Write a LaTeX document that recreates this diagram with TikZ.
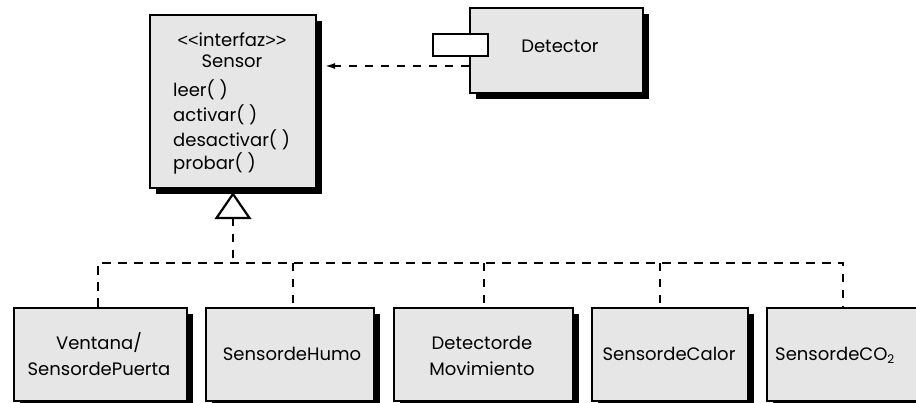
\documentclass[tikz,border=0pt]{standalone}
\usepackage{fontspec}
\setmainfont{Poppins}
\newfontfamily\anglefont{Liberation Sans}
\usetikzlibrary{arrows.meta,shadows}
\definecolor{boxgray}{HTML}{E6E6E7}
\begin{document}
\begin{tikzpicture}[x=1pt,y=-1pt,
  box/.style={draw=black, line width=2.2pt, fill=boxgray, rectangle, inner sep=0pt, anchor=north west,
    general shadow={fill=black, shadow xshift=6pt, shadow yshift=-6pt}},
  lbl/.style={inner sep=0pt, anchor=base, font=\fontsize{18}{21}\selectfont},
  conn/.style={line width=2.5pt, dash pattern=on 8.5pt off 7.5pt}]
\useasboundingbox (0,0) rectangle (916,403);
\clip (0,0) rectangle (916,403);
% Sensor interface
\node[box, minimum width=166pt, minimum height=173pt] (sensor) at (149,14) {};
\node[lbl] (s1) at (232,47) {{\anglefont<\kern0pt<}interfaz{\anglefont>\kern0pt>}};
\node[lbl] (s2) at (232,68) {Sensor};
\node[lbl, anchor=base west] (m1) at (173,97) {leer( )};
\node[lbl, anchor=base west] (m2) at (173,122) {activar( )};
\node[lbl, anchor=base west] (m3) at (173,147) {desactivar( )};
\node[lbl, anchor=base west] (m4) at (173,170) {probar( )};
% Detector component
\node[box, minimum width=173pt, minimum height=85pt] (det) at (469,7) {};
\node[lbl] (dt) at (560,53) {Detector};
\node[draw=black, line width=2.2pt, fill=white, rectangle, inner sep=0pt, anchor=north west,
  minimum width=55pt, minimum height=22pt] (port) at (432,33) {};
\coordinate (aS) at (469,66);
\draw[conn, -{Latex[length=12pt,width=6pt]}] (aS) -- ([xshift=6pt]sensor.east |- aS);
% realization triangle
\coordinate (tip) at (233,194);
\coordinate (tribase) at (233,218);
\draw[line width=2.2pt, fill=white, line join=miter] (tip) -- ++(-16.5,24) -- ++(33,0) -- cycle;
% bottom boxes
\node[box, minimum width=173pt, minimum height=93pt] (b1) at (13,307) {};
\node[box, minimum width=168pt, minimum height=93pt] (b2) at (205,307) {};
\node[box, minimum width=179pt, minimum height=93pt] (b3) at (393,307) {};
\node[box, minimum width=156pt, minimum height=93pt] (b4) at (591,307) {};
\node[box, minimum width=170pt, minimum height=93pt] (b5) at (766,307) {};
\node[lbl] (t1a) at (99,350) {Ventana/};
\node[lbl] (t1b) at (99,375) {SensordePuerta};
\node[lbl] (t2) at (292,360) {SensordeHumo};
\node[lbl] (t3a) at (482,350) {Detectorde};
\node[lbl] (t3b) at (482,375) {Movimiento};
\node[lbl] (t4) at (669,360) {SensordeCalor};
\node[lbl, anchor=base west] (t5) at (775,360) {SensordeCO{\fontsize{12}{12}\selectfont\raisebox{-3pt}{2}}};
% connectors
\coordinate (bus) at (233,263);
\coordinate (d1) at (98,263);
\coordinate (d2) at (293,263);
\coordinate (d3) at (484,263);
\coordinate (d4) at (660,263);
\coordinate (d5) at (843,263);
\draw[conn] (tribase) -- (bus);
\draw[conn] (d1 |- b1.north) -- (d1) -- (d5) -- (d5 |- b5.north);
\draw[conn] (d2) -- (d2 |- b2.north);
\draw[conn] (d3) -- (d3 |- b3.north);
\draw[conn] (d4) -- (d4 |- b4.north);
\end{tikzpicture}
\end{document}
